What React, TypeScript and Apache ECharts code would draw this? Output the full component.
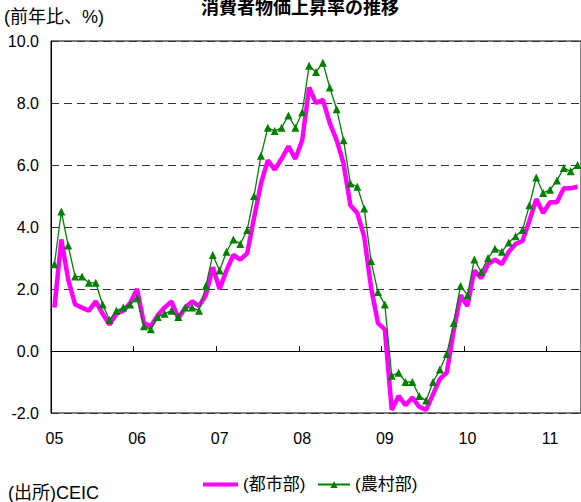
import React, { useEffect, useRef } from "react";
import * as echarts from "echarts";

const TITLE = "消費者物価上昇率の推移";
const UNIT_LABEL = "(前年比、%)";
const SOURCE_LABEL = "(出所)CEIC";
const SERIES_NAMES = ["(都市部)", "(農村部)"];
const YEARS = [2005, 2006, 2007, 2008, 2009, 2010, 2011];
const MONTH_COUNT = 77; // Jan 2005 - May 2011

const URBAN = [
  1.4, 3.6, 2.3, 1.5, 1.4, 1.3, 1.6, 1.2, 0.85, 1.2, 1.3, 1.55,
  2.0, 0.9, 0.8, 1.15, 1.4, 1.6, 1.05, 1.4, 1.6, 1.45, 1.8, 2.7,
  2.0, 2.6, 3.1, 2.95, 3.15, 4.3, 5.4, 6.15, 5.85, 6.2, 6.6, 6.2,
  6.8, 8.5, 8.0, 8.1, 7.35, 6.8, 6.05, 4.7, 4.45, 3.7, 2.05, 0.9,
  0.7, -1.9, -1.45, -1.75, -1.5, -1.8, -1.9, -1.4, -0.9, -0.7, 0.65, 1.8,
  1.45, 2.6, 2.35, 2.8, 2.95, 2.8, 3.2, 3.45, 3.55, 4.2, 4.9, 4.45,
  4.8, 4.8, 5.25, 5.25, 5.3,
];

const RURAL = [
  2.8, 4.5, 3.4, 2.4, 2.4, 2.2, 2.2, 1.5, 1.0, 1.3, 1.4, 1.5,
  1.7, 0.8, 0.7, 1.1, 1.2, 1.3, 1.1, 1.4, 1.4, 1.3, 2.1, 3.1,
  2.6, 3.2, 3.6, 3.45, 3.9, 5.0, 6.3, 7.2, 7.1, 7.2, 7.6, 7.2,
  7.7, 9.2, 9.0, 9.3, 8.5, 7.8, 6.8, 5.4, 5.3, 4.6, 2.9, 1.9,
  1.5, -0.8, -0.7, -1.0, -1.0, -1.45, -1.6, -1.0, -0.6, -0.1, 0.9, 2.1,
  1.8, 2.95, 2.55, 3.0, 3.3, 3.2, 3.5, 3.7, 3.9, 4.7, 5.6, 5.1,
  5.2, 5.5, 5.9, 5.8, 6.0,
];

const Y_MIN = -2;
const Y_MAX = 10;
const Y_INTERVAL = 2;

const FONT = "'Liberation Sans', Arial, 'Noto Sans CJK JP', sans-serif";

function buildMonths(): string[] {
  const out: string[] = [];
  for (const y of YEARS) {
    for (let m = 1; m <= 12; m++) {
      if (out.length < MONTH_COUNT) out.push(`${y}-${String(m).padStart(2, "0")}`);
    }
  }
  return out;
}

export default function App() {
  const ref = useRef<HTMLDivElement>(null);
  useEffect(() => {
    if (!ref.current) return;
    const chart = echarts.init(ref.current, null, { renderer: "svg" });
    const months = buildMonths();
    chart.setOption({
      animation: false,
      backgroundColor: "#fff",
      textStyle: { fontFamily: FONT },
      title: {
        text: TITLE,
        left: 196,
        top: -6,
        textStyle: { fontSize: 18, fontWeight: "bold", color: "#000", fontFamily: FONT },
      },
      graphic: [
        {
          type: "text",
          left: 4,
          top: 8,
          style: { text: UNIT_LABEL, fill: "#000", font: `18px ${FONT}` },
        },
        {
          type: "text",
          left: 8,
          top: 484,
          style: { text: SOURCE_LABEL, fill: "#000", font: `18px ${FONT}` },
        },
      ],
      legend: [
        {
          left: 198,
          top: 471,
          itemWidth: 35,
          itemHeight: 14,
          itemGap: 0,
          textStyle: { fontSize: 17, color: "#000", fontFamily: FONT },
          data: [
            {
              name: SERIES_NAMES[0],
              icon: "path://M0,0 M35,14 M0,5 L35,5 L35,9 L0,9 Z",
            },
          ],
        },
        {
          left: 312,
          top: 471,
          itemWidth: 32,
          itemHeight: 9,
          itemGap: 0,
          textStyle: { fontSize: 17, color: "#000", fontFamily: FONT },
          data: [SERIES_NAMES[1]],
        },
      ],
      grid: {
        left: 51,
        top: 41,
        width: 533,
        height: 372,
        show: true,
        borderColor: "#000",
        borderWidth: 1,
        containLabel: false,
      },
      xAxis: [
        {
          type: "category",
          data: months,
          boundaryGap: true,
          position: "bottom",
          axisLine: { show: true, onZero: true, lineStyle: { color: "#000", width: 1 } },
          axisTick: { show: true, inside: true, interval: 11, length: 5, lineStyle: { color: "#000" } },
          axisLabel: { show: false },
          splitLine: { show: false },
        },
        {
          type: "category",
          data: months,
          boundaryGap: true,
          position: "bottom",
          axisLine: { show: false, onZero: false },
          axisTick: { show: false },
          axisLabel: {
            show: true,
            interval: 11,
            margin: 17,
            fontSize: 16,
            color: "#000",
            fontFamily: FONT,
            formatter: (v: string) => v.slice(2, 4),
          },
          splitLine: { show: false },
        },
      ],
      yAxis: {
        type: "value",
        min: Y_MIN,
        max: Y_MAX,
        interval: Y_INTERVAL,
        axisLine: { show: true, lineStyle: { color: "#000", width: 1 } },
        axisTick: { show: false },
        axisLabel: {
          fontSize: 16,
          color: "#000",
          margin: 12,
          fontFamily: FONT,
          formatter: (v: number) => v.toFixed(1),
        },
        splitLine: { show: true, lineStyle: { color: "#333", type: [8, 5], width: 1 } },
      },
      series: [
        {
          name: SERIES_NAMES[0],
          type: "line",
          xAxisIndex: 0,
          data: URBAN,
          symbol: "none",
          lineStyle: { color: "#ff00ff", width: 4.5 },
          itemStyle: { color: "#ff00ff" },
          z: 2,
        },
        {
          name: SERIES_NAMES[1],
          type: "line",
          xAxisIndex: 0,
          data: RURAL,
          symbol: "triangle",
          symbolSize: 8,
          showSymbol: true,
          showAllSymbol: true,
          lineStyle: { color: "#008000", width: 1.3 },
          itemStyle: { color: "#008000" },
          z: 3,
        },
      ],
    });
    return () => chart.dispose();
  }, []);
  return (
    <div
      ref={ref}
      style={{ position: "fixed", left: 0, top: 0, width: 581, height: 502 }}
    />
  );
}
